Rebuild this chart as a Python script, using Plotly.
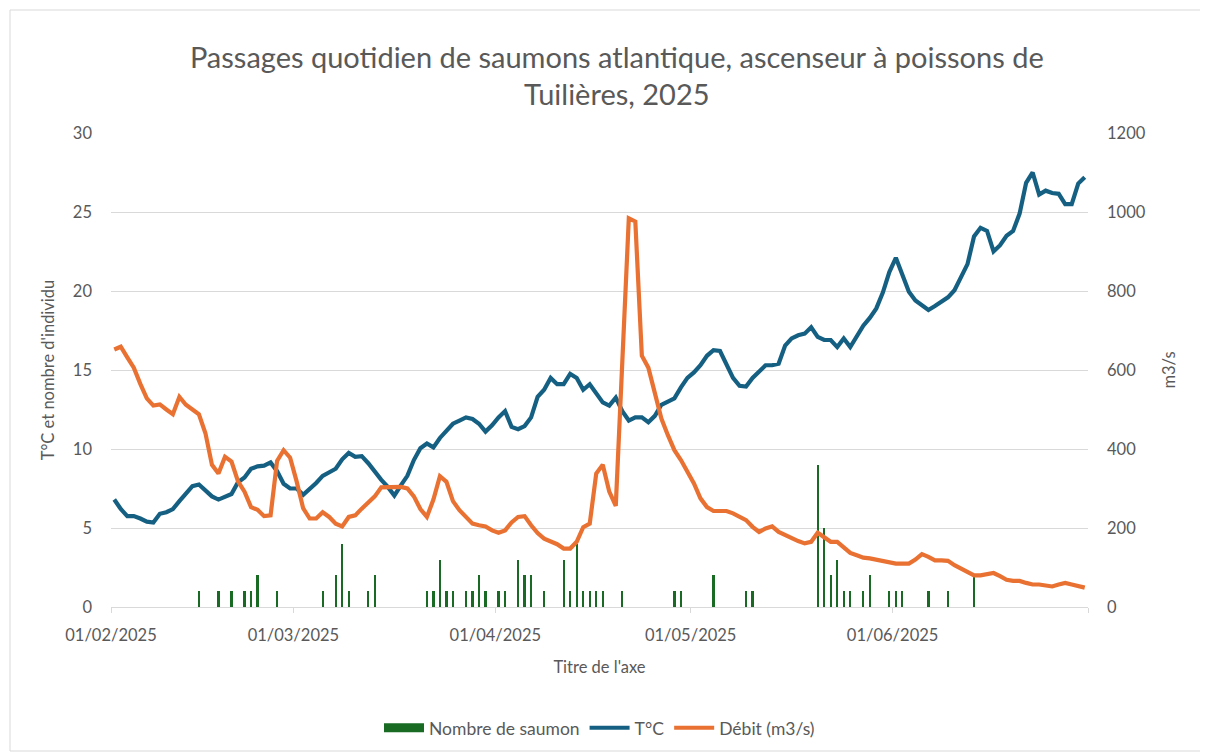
import pandas as pd
import plotly.graph_objects as go

# ---------------- data ----------------
start_date = "2025-02-01"
temp_feb = [6.8, 6.2, 5.75, 5.75, 5.6, 5.4, 5.35, 5.9, 6.0, 6.2, 6.7, 7.2, 7.65, 7.75, 7.35, 7.0, 6.8, 6.95,
            7.15, 7.9, 8.2, 8.75, 8.9, 8.95, 9.15, 8.6, 7.8, 7.5]
temp_mar = [7.5, 7.1, 7.45, 7.85, 8.3, 8.55, 8.75, 9.35, 9.75, 9.5, 9.55, 9.1, 8.55, 8.05, 7.6, 7.05, 7.7,
            8.3, 9.3, 10.05, 10.35, 10.1, 10.7, 11.2, 11.6, 11.8, 12.0, 11.9, 11.6, 11.1, 11.5]
temp_apr = [12.0, 12.4, 11.4, 11.25, 11.45, 12.0, 13.3, 13.75, 14.5, 14.1, 14.1, 14.75, 14.5, 13.75, 14.1,
            13.5, 12.95, 12.75, 13.25, 12.4, 11.8, 12.0, 12.0, 11.7, 12.1, 12.8, 13.0, 13.2, 13.9, 14.5]
temp_may = [14.85, 15.3, 15.9, 16.25, 16.2, 15.3, 14.5, 14.0, 13.95, 14.5, 14.9, 15.3, 15.3, 15.4, 16.55,
            17.0, 17.2, 17.3, 17.7, 17.1, 16.9, 16.9, 16.45, 17.0, 16.45, 17.1, 17.8, 18.3, 18.9, 19.9, 21.2]
temp_jun = [22.1, 21.0, 19.95, 19.4, 19.1, 18.8, 19.05, 19.3, 19.6, 20.05, 20.9, 21.7, 23.45, 24.0, 23.8,
            22.5, 22.9, 23.5, 23.8, 24.9, 26.85, 27.5, 26.1, 26.35, 26.2, 26.15, 25.5, 25.5, 26.8, 27.2]

debit_feb = [652, 659, 632, 606, 565, 528, 510, 513, 500, 488, 532, 512, 500, 488, 440, 360, 338, 380, 368,
             318, 292, 253, 246, 230, 232, 370, 397, 378]
debit_mar = [318, 250, 224, 224, 240, 228, 211, 204, 228, 232, 249, 266, 280, 303, 304, 304, 304, 300, 280,
             248, 228, 272, 331, 317, 268, 245, 228, 211, 207, 204, 194]
debit_apr = [188, 194, 214, 228, 230, 207, 187, 173, 167, 159, 148, 148, 165, 202, 211, 338, 360, 292, 256,
             620, 984, 976, 636, 606, 541, 477, 435, 397, 372, 342]
debit_may = [313, 275, 253, 243, 243, 243, 237, 228, 220, 203, 190, 199, 204, 190, 182, 176, 167, 161, 165,
             188, 176, 165, 165, 150, 137, 131, 125, 123, 120, 118, 114]
debit_jun = [110, 110, 110, 120, 134, 127, 118, 118, 117, 106, 97, 89, 80, 80, 83, 86, 78, 69, 66, 66, 61,
             57, 57, 55, 52, 57, 61, 57, 52, 49]

saumon_dates = ["2025-02-14", "2025-02-17", "2025-02-19", "2025-02-21", "2025-02-22", "2025-02-23",
                "2025-02-26", "2025-03-05", "2025-03-07", "2025-03-08", "2025-03-09", "2025-03-12",
                "2025-03-13", "2025-03-21", "2025-03-22", "2025-03-23", "2025-03-24", "2025-03-25",
                "2025-03-27", "2025-03-28", "2025-03-29", "2025-03-30", "2025-04-01", "2025-04-02",
                "2025-04-04", "2025-04-05", "2025-04-06", "2025-04-08", "2025-04-11", "2025-04-12",
                "2025-04-13", "2025-04-14", "2025-04-15", "2025-04-16", "2025-04-17", "2025-04-20",
                "2025-04-28", "2025-04-29", "2025-05-04", "2025-05-09", "2025-05-10", "2025-05-20",
                "2025-05-21", "2025-05-22", "2025-05-23", "2025-05-24", "2025-05-25", "2025-05-27",
                "2025-05-28", "2025-05-31", "2025-06-01", "2025-06-02", "2025-06-06", "2025-06-09",
                "2025-06-13"]
saumon_counts = [1, 1, 1, 1, 1, 2, 1, 1, 2, 4, 1, 1, 2, 1, 1, 3, 1, 1, 1, 1, 2, 1, 1, 1, 3, 2, 2, 1, 3, 1,
                 4, 1, 1, 1, 1, 1, 1, 1, 2, 1, 1, 9, 5, 2, 3, 1, 1, 1, 2, 1, 1, 1, 1, 1, 2]

tick_dates = ["2025-02-01", "2025-03-01", "2025-04-01", "2025-05-01", "2025-06-01", "2025-07-01"]
tick_labels = ["01/02/2025", "01/03/2025", "01/04/2025", "01/05/2025", "01/06/2025", ""]

temperature = temp_feb + temp_mar + temp_apr + temp_may + temp_jun
debit = debit_feb + debit_mar + debit_apr + debit_may + debit_jun
dates = pd.date_range(start_date, periods=len(temperature), freq="D")

# ---------------- styling ----------------
FONT = "Lato"
GREY = "#595959"
GREEN, BLUE, ORANGE = "#196B24", "#156082", "#E97132"
DAY_MS = 86400000
W, H = 1208, 752
ML, MR, MT, MB = 103, 128, 125, 153
PW, PH = W - ML - MR, H - MT - MB

fig = go.Figure()
fig.add_trace(go.Bar(
    x=saumon_dates, y=saumon_counts, name="Nombre de saumon",
    marker=dict(color=GREEN, line=dict(width=0)),
    width=0.34 * DAY_MS, xperiod=DAY_MS, xperiodalignment="middle",
    yaxis="y", legendgroup="g1", showlegend=False,
))
# legend entry for the bars drawn as a wide filled swatch
fig.add_trace(go.Scatter(
    x=[None], y=[None], name="Nombre de saumon", mode="lines",
    line=dict(color=GREEN, width=9), legendgroup="g1", showlegend=True,
))
fig.add_trace(go.Scatter(
    x=dates, y=temperature, name="T°C", mode="lines",
    line=dict(color=BLUE, width=4.2),
    xperiod=DAY_MS, xperiodalignment="middle", yaxis="y", legendgroup="g2",
))
fig.add_trace(go.Scatter(
    x=dates, y=debit, name="Débit (m3/s)", mode="lines",
    line=dict(color=ORANGE, width=4.2),
    xperiod=DAY_MS, xperiodalignment="middle", yaxis="y2", legendgroup="g3",
))

fig.update_layout(
    width=W, height=H,
    margin=dict(l=ML, r=MR, t=MT, b=MB),
    paper_bgcolor="white", plot_bgcolor="white",
    font=dict(family=FONT, color=GREY, size=16),
    title=dict(
        text="Passages quotidien de saumons atlantique, ascenseur à poissons de<br>Tuilières, 2025",
        x=0.504, xanchor="center", y=1 - 59.5 / H, yanchor="middle",
        font=dict(family=FONT, size=29, color=GREY),
    ),
    bargap=0,
    showlegend=True,
    legend=dict(
        orientation="h", x=0.5, xanchor="center", y=-0.255, yanchor="middle",
        font=dict(family=FONT, size=17.5, color=GREY), traceorder="normal",
        itemwidth=40, tracegroupgap=13,
    ),
    xaxis=dict(
        type="date", range=["2025-02-01", "2025-07-01"],
        tickvals=tick_dates, ticktext=tick_labels,
        showgrid=False, showline=True, linecolor="#D9D9D9", linewidth=1.3,
        ticks="outside", ticklen=5, tickcolor="#D9D9D9",
        tickfont=dict(size=16.5, color=GREY), ticklabelstandoff=8,
        title=dict(text="Titre de l'axe", font=dict(size=16.5, color=GREY), standoff=17),
        zeroline=False,
    ),
    yaxis=dict(
        range=[0, 30], dtick=5, showgrid=True, gridcolor="#D9D9D9", gridwidth=1.3,
        zeroline=False, showline=False, ticks="",
        tickfont=dict(size=16.5, color=GREY), ticklabelstandoff=18,
        title=dict(text="T°C et nombre d'individu", font=dict(size=16.5, color=GREY), standoff=14),
    ),
    yaxis2=dict(
        range=[0, 1200], dtick=200, overlaying="y", side="right", showgrid=False,
        zeroline=False, showline=False, ticks="",
        tickfont=dict(size=16.5, color=GREY), ticklabelstandoff=18,
        title=dict(text="m3/s", font=dict(size=16.5, color=GREY), standoff=18),
    ),
    shapes=[dict(
        type="rect", xref="paper", yref="paper",
        x0=(2 - ML) / PW, x1=(1198 - ML) / PW,
        y0=(MT + PH - 743) / PH, y1=(MT + PH - 2) / PH,
        line=dict(color="#D9D9D9", width=1), fillcolor="rgba(0,0,0,0)", layer="below",
    )],
)

fig.write_html("out.html")
